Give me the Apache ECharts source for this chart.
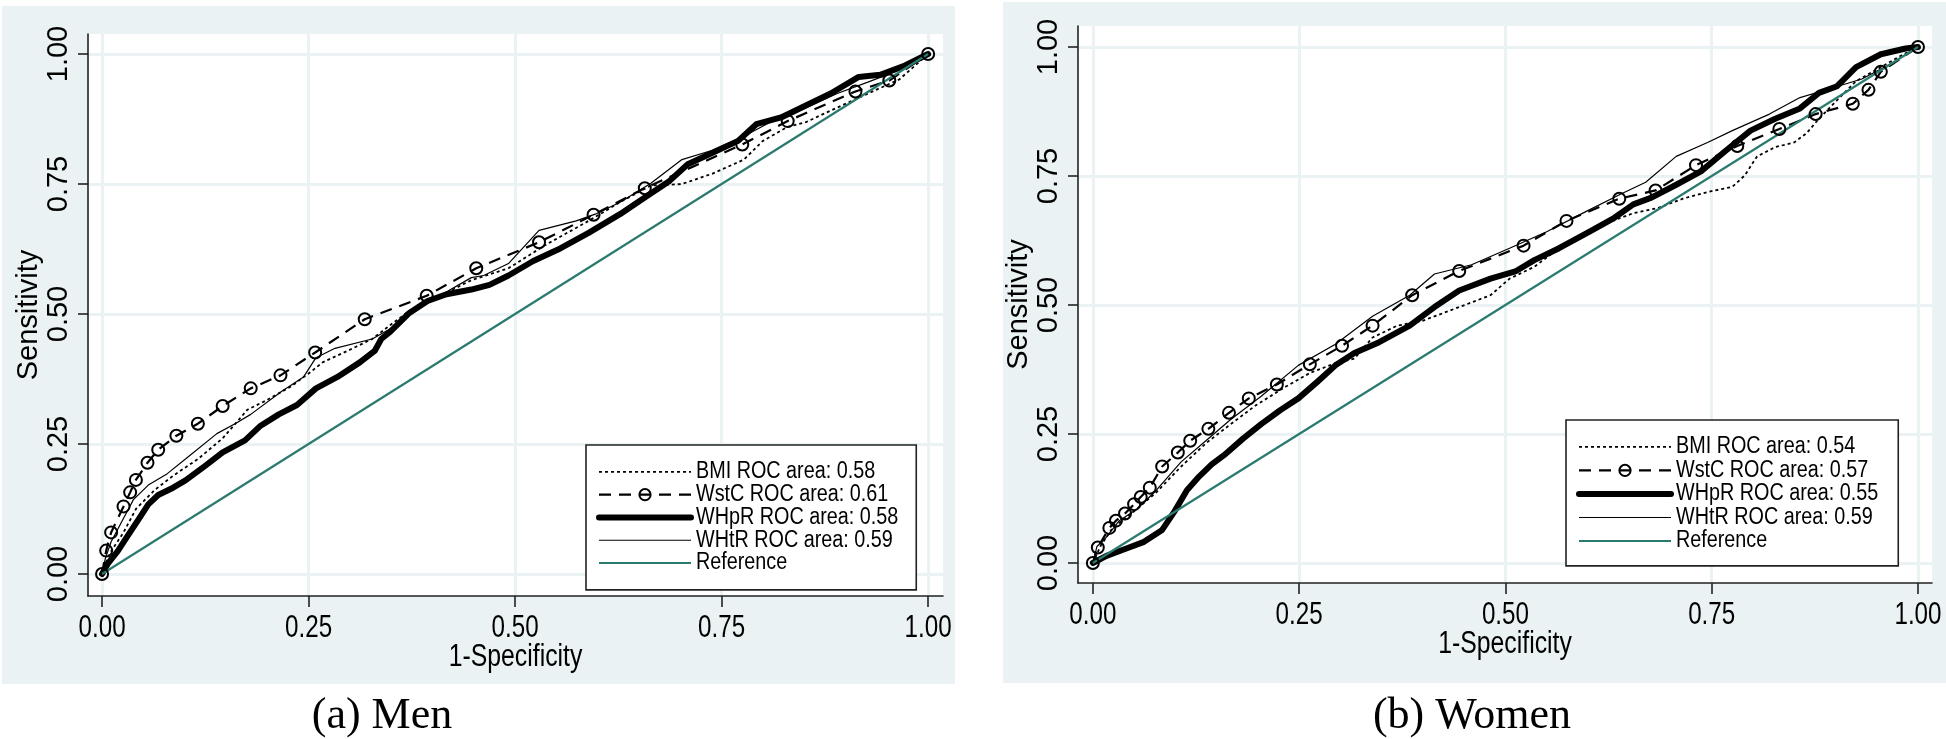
<!DOCTYPE html>
<html><head><meta charset="utf-8">
<script src="https://cdn.jsdelivr.net/npm/echarts@6/dist/echarts.min.js"></script>
<style>
html,body{margin:0;padding:0;background:#fff;}
#wrap{position:relative;width:1946px;height:739px;overflow:hidden;}
.bg{position:absolute;background:#eaf2f3;}
#c{position:absolute;left:0;top:0;width:1946px;height:739px;}
</style>
</head><body>
<div id="wrap">
<div class="bg" style="left:2px;top:6px;width:953px;height:678px"></div>
<div class="bg" style="left:1003px;top:2px;width:943px;height:681px"></div>
<div id="c"></div>
</div>
<script>
const tickValues = [0, 0.25, 0.5, 0.75, 1];
const tickLabels = ['0.00', '0.25', '0.50', '0.75', '1.00'];
const captions = ['(a) Men', '(b) Women'];
const xName = '1-Specificity';
const yName = 'Sensitivity';
const menNames = ['BMI ROC area: 0.58', 'WstC ROC area: 0.61', 'WHpR ROC area: 0.58', 'WHtR ROC area: 0.59', 'Reference'];
const womenNames = ['BMI ROC area: 0.54', 'WstC ROC area: 0.57', 'WHpR ROC area: 0.55', 'WHtR ROC area: 0.59', 'Reference'];
const reference = [[0, 0], [1, 1]];

const menBMI = [[0,0],[0.004,0.02],[0.011,0.044],[0.026,0.08],[0.041,0.125],[0.064,0.162],[0.086,0.189],[0.116,0.221],[0.146,0.261],[0.176,0.316],[0.199,0.334],[0.229,0.361],[0.252,0.388],[0.267,0.407],[0.297,0.429],[0.327,0.452],[0.349,0.479],[0.372,0.506],[0.402,0.529],[0.447,0.565],[0.492,0.588],[0.537,0.633],[0.589,0.679],[0.627,0.715],[0.664,0.747],[0.702,0.75],[0.739,0.77],[0.777,0.797],[0.8,0.833],[0.83,0.86],[0.852,0.869],[0.89,0.897],[0.927,0.924],[0.965,0.951],[1,1]];
const menWstC = [[0,0],[0.005,0.045],[0.011,0.08],[0.026,0.13],[0.034,0.157],[0.041,0.181],[0.055,0.214],[0.068,0.239],[0.09,0.266],[0.116,0.289],[0.146,0.323],[0.18,0.357],[0.216,0.382],[0.258,0.426],[0.318,0.49],[0.393,0.535],[0.453,0.588],[0.529,0.638],[0.595,0.691],[0.657,0.742],[0.775,0.826],[0.83,0.871],[0.912,0.928],[0.953,0.949],[1,1]];
const menWHpR = [[0,0],[0.0075,0.021],[0.019,0.044],[0.03,0.071],[0.045,0.107],[0.056,0.134],[0.068,0.152],[0.086,0.166],[0.101,0.18],[0.124,0.207],[0.146,0.234],[0.173,0.257],[0.191,0.284],[0.214,0.307],[0.236,0.325],[0.259,0.357],[0.285,0.379],[0.312,0.407],[0.33,0.429],[0.338,0.452],[0.349,0.466],[0.372,0.502],[0.394,0.525],[0.417,0.538],[0.447,0.547],[0.469,0.556],[0.492,0.574],[0.522,0.602],[0.552,0.624],[0.589,0.656],[0.627,0.692],[0.657,0.724],[0.687,0.756],[0.709,0.788],[0.739,0.81],[0.77,0.833],[0.792,0.865],[0.822,0.878],[0.852,0.901],[0.882,0.924],[0.916,0.956],[0.942,0.96],[0.972,0.978],[1,1]];
const menWHtR = [[0,0],[0.004,0.03],[0.011,0.062],[0.023,0.098],[0.038,0.143],[0.056,0.171],[0.079,0.193],[0.101,0.221],[0.139,0.27],[0.161,0.289],[0.18,0.307],[0.218,0.352],[0.244,0.379],[0.259,0.416],[0.282,0.434],[0.327,0.452],[0.357,0.479],[0.372,0.506],[0.402,0.529],[0.447,0.57],[0.462,0.574],[0.492,0.597],[0.529,0.661],[0.574,0.679],[0.597,0.692],[0.627,0.715],[0.664,0.751],[0.702,0.797],[0.739,0.815],[0.777,0.842],[0.815,0.874],[0.852,0.897],[0.89,0.924],[0.927,0.946],[0.965,0.969],[1,1]];

const womenBMI = [[0,0],[0.009,0.032],[0.024,0.068],[0.047,0.096],[0.077,0.137],[0.107,0.187],[0.137,0.232],[0.167,0.269],[0.197,0.305],[0.234,0.342],[0.264,0.369],[0.294,0.387],[0.317,0.396],[0.339,0.437],[0.369,0.46],[0.399,0.469],[0.429,0.487],[0.459,0.505],[0.482,0.519],[0.505,0.551],[0.535,0.574],[0.565,0.61],[0.595,0.633],[0.625,0.66],[0.655,0.678],[0.685,0.688],[0.715,0.706],[0.745,0.719],[0.775,0.729],[0.79,0.751],[0.805,0.788],[0.827,0.806],[0.85,0.815],[0.865,0.833],[0.88,0.861],[0.902,0.897],[0.925,0.934],[0.955,0.961],[0.985,0.988],[1,1]];
const womenWstC = [[0,0],[0.006,0.03],[0.02,0.068],[0.028,0.082],[0.039,0.096],[0.05,0.114],[0.058,0.128],[0.069,0.146],[0.084,0.187],[0.103,0.214],[0.118,0.237],[0.14,0.26],[0.165,0.291],[0.189,0.319],[0.223,0.346],[0.263,0.385],[0.302,0.421],[0.339,0.46],[0.387,0.519],[0.444,0.566],[0.522,0.615],[0.574,0.663],[0.638,0.706],[0.682,0.722],[0.731,0.771],[0.781,0.808],[0.832,0.841],[0.876,0.87],[0.921,0.89],[0.94,0.917],[0.955,0.952],[1,1]];
const womenWHpR = [[0,0],[0.0165,0.0137],[0.039,0.027],[0.062,0.041],[0.084,0.064],[0.099,0.1],[0.114,0.141],[0.129,0.168],[0.144,0.191],[0.159,0.209],[0.182,0.241],[0.204,0.269],[0.227,0.296],[0.249,0.319],[0.272,0.351],[0.294,0.383],[0.317,0.407],[0.347,0.428],[0.384,0.46],[0.414,0.496],[0.444,0.528],[0.482,0.551],[0.512,0.565],[0.535,0.587],[0.565,0.61],[0.602,0.642],[0.632,0.669],[0.655,0.695],[0.677,0.708],[0.707,0.733],[0.737,0.759],[0.767,0.799],[0.797,0.838],[0.827,0.861],[0.857,0.881],[0.88,0.911],[0.902,0.924],[0.925,0.961],[0.955,0.986],[0.985,0.997],[1,1]];
const womenWHtR = [[0,0],[0.005,0.032],[0.0165,0.05],[0.032,0.082],[0.054,0.105],[0.077,0.141],[0.107,0.196],[0.137,0.237],[0.167,0.278],[0.204,0.323],[0.249,0.383],[0.294,0.424],[0.339,0.478],[0.384,0.519],[0.414,0.56],[0.459,0.578],[0.505,0.61],[0.55,0.642],[0.595,0.679],[0.64,0.715],[0.67,0.738],[0.707,0.788],[0.745,0.815],[0.775,0.838],[0.82,0.87],[0.857,0.902],[0.895,0.92],[0.932,0.938],[0.97,0.97],[1,1]];

// Condensed text rendering: fonts whose family list starts with "ZZN<percent>" are drawn
// horizontally compressed (the original figure uses a narrow sans face that is not installed).
(function () {
  const P = CanvasRenderingContext2D.prototype;
  const oFill = P.fillText, oStroke = P.strokeText, oMeasure = P.measureText;
  function factor(ctx) { const m = /ZZN(\d+)/.exec(ctx.font || ''); return m ? (+m[1]) / 100 : 0; }
  P.measureText = function (t) {
    const m = oMeasure.call(this, t); const f = factor(this);
    if (!f) return m;
    return { width: m.width * f, actualBoundingBoxAscent: m.actualBoundingBoxAscent, actualBoundingBoxDescent: m.actualBoundingBoxDescent,
      actualBoundingBoxLeft: m.actualBoundingBoxLeft * f, actualBoundingBoxRight: m.actualBoundingBoxRight * f,
      fontBoundingBoxAscent: m.fontBoundingBoxAscent, fontBoundingBoxDescent: m.fontBoundingBoxDescent };
  };
  P.fillText = function (t, x, y) {
    const f = factor(this); if (!f) return oFill.apply(this, arguments);
    this.save(); this.translate(x, y); this.scale(f, 1); oFill.call(this, t, 0, 0); this.restore();
  };
  P.strokeText = function (t, x, y) {
    const f = factor(this); if (!f) return oStroke.apply(this, arguments);
    this.save(); this.translate(x, y); this.scale(f, 1); oStroke.call(this, t, 0, 0); this.restore();
  };
})();

const tickFont = "ZZN78,'Liberation Sans',Arial,sans-serif";
const nameFont = "ZZN80,'Liberation Sans',Arial,sans-serif";
const legendFont = "ZZN86,'Liberation Sans',Arial,sans-serif";
const regular = "'Liberation Sans',Arial,sans-serif";
const gridColor = '#eaf2f3';
const tealColor = '#2b7a6e';

function fmt(v) {
  const i = tickValues.findIndex(t => Math.abs(t - v) < 1e-9);
  return i >= 0 ? tickLabels[i] : '';
}

function xAxisCfg(gi, min, max) {
  return {
    gridIndex: gi, type: 'value', min: min, max: max,
    name: xName, nameLocation: 'middle', nameGap: 48,
    nameTextStyle: { fontFamily: nameFont, fontSize: 31, color: '#000' },
    axisLine: { show: true, onZero: false, lineStyle: { color: '#222', width: 1.6 } },
    axisTick: { show: true, customValues: tickValues, length: 11, lineStyle: { color: '#222', width: 1.6 } },
    axisLabel: { customValues: tickValues, formatter: fmt, fontFamily: tickFont, fontSize: 31, color: '#000', margin: 20 },
    splitLine: { show: true, lineStyle: { color: gridColor, width: 3 } }
  };
}
function yAxisCfg(gi, min, max) {
  return {
    gridIndex: gi, type: 'value', min: min, max: max,
    name: yName, nameLocation: 'middle', nameGap: 44, nameRotate: 90,
    nameTextStyle: { fontFamily: regular, fontSize: 29, color: '#000' },
    axisLine: { show: true, onZero: false, lineStyle: { color: '#222', width: 1.6 } },
    axisTick: { show: true, customValues: tickValues, length: 10, lineStyle: { color: '#222', width: 1.6 } },
    axisLabel: { customValues: tickValues, formatter: fmt, fontFamily: regular, fontSize: 29, color: '#000', rotate: 90, margin: 15 },
    splitLine: { show: true, lineStyle: { color: gridColor, width: 3 } }
  };
}
function panelSeries(gi, names, bmi, wstc, whpr, whtr) {
  const base = { type: 'line', xAxisIndex: gi, yAxisIndex: gi, animation: false, silent: true, symbol: 'none', showSymbol: false };
  return [
    Object.assign({}, base, { name: names[0], data: bmi, itemStyle: { color: '#000' }, lineStyle: { color: '#000', width: 1.8, type: [3, 3] } }),
    Object.assign({}, base, { name: names[1], data: wstc, symbol: 'circle', showSymbol: true, symbolSize: 12,
      itemStyle: { color: 'rgba(0,0,0,0)', borderColor: '#000', borderWidth: 2 }, lineStyle: { color: '#000', width: 2.2, type: [12, 8] } }),
    Object.assign({}, base, { name: names[2], data: whpr, itemStyle: { color: '#000' }, lineStyle: { color: '#000', width: 6, join: 'round', cap: 'round' } }),
    Object.assign({}, base, { name: names[3], data: whtr, itemStyle: { color: '#000' }, lineStyle: { color: '#000', width: 1.2 } }),
    Object.assign({}, base, { name: names[4], data: reference, itemStyle: { color: tealColor }, lineStyle: { color: tealColor, width: 2.2 } })
  ];
}
function legendCfg(names, left, top, padding, gap) {
  const hidden = { opacity: 0 };
  return {
    data: [
      { name: names[0], itemStyle: hidden, lineStyle: { width: 1.8, type: [3, 3], color: '#000' } },
      { name: names[1], lineStyle: { width: 2.2, type: [12, 8], color: '#000' } },
      { name: names[2], itemStyle: hidden, lineStyle: { width: 6, color: '#000', cap: 'round' } },
      { name: names[3], itemStyle: hidden, lineStyle: { width: 1.2, color: '#000' } },
      { name: names[4], itemStyle: hidden, lineStyle: { width: 2.2, color: tealColor } }
    ],
    orient: 'vertical', left: left, top: top,
    itemWidth: 92, itemHeight: 14, itemGap: gap, selectedMode: false,
    backgroundColor: '#fff', borderColor: '#222', borderWidth: 1.6, borderRadius: 0,
    padding: padding,
    textStyle: { fontFamily: legendFont, fontSize: 23, color: '#000' }
  };
}

const chart = echarts.init(document.getElementById('c'), null, { renderer: 'canvas' });
chart.setOption({
  animation: false,
  backgroundColor: 'transparent',
  grid: [
    { left: 88, top: 34, width: 855, height: 562, show: true, backgroundColor: '#fff', borderWidth: 0 },
    { left: 1078, top: 26, width: 854, height: 557, show: true, backgroundColor: '#fff', borderWidth: 0 }
  ],
  xAxis: [xAxisCfg(0, -0.017, 1.018), xAxisCfg(1, -0.018, 1.017)],
  yAxis: [yAxisCfg(0, -0.0423, 1.0385), yAxisCfg(1, -0.0388, 1.0407)],
  legend: [
    legendCfg(menNames, 586, 445, [17, 18, 17, 10], 3),
    legendCfg(womenNames, 1566, 420, [17, 20, 15, 10], 3.75)
  ],
  graphic: [
    { type: 'text', x: 382, y: 716, style: { text: captions[0], font: "44px 'Liberation Serif','Times New Roman',serif", fill: '#000', align: 'center', verticalAlign: 'middle' } },
    { type: 'text', x: 1472, y: 716, style: { text: captions[1], font: "44px 'Liberation Serif','Times New Roman',serif", fill: '#000', align: 'center', verticalAlign: 'middle' } }
  ],
  series: [].concat(
    panelSeries(0, menNames, menBMI, menWstC, menWHpR, menWHtR),
    panelSeries(1, womenNames, womenBMI, womenWstC, womenWHpR, womenWHtR)
  )
});
</script>
</body></html>
